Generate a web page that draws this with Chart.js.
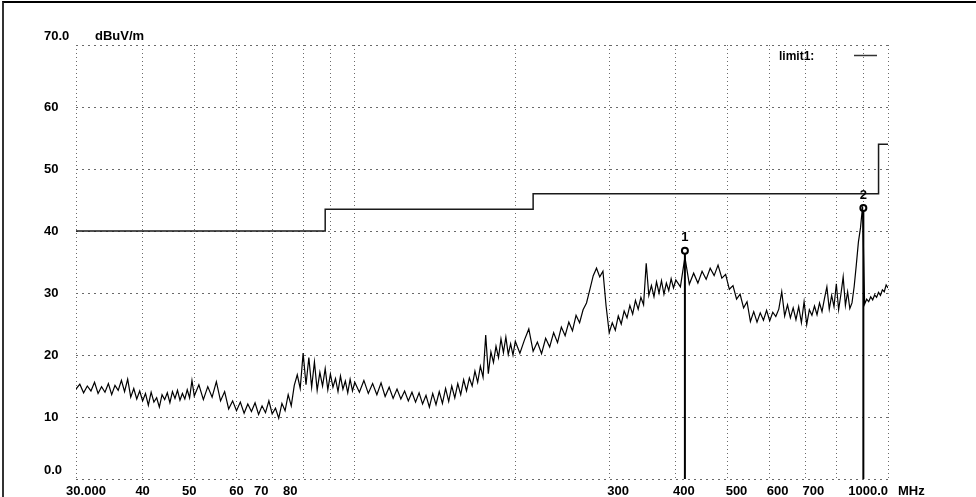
<!DOCTYPE html>
<html>
<head>
<meta charset="utf-8">
<script src="https://cdn.jsdelivr.net/npm/chart.js@4.4.1/dist/chart.umd.min.js"></script>
<style>
  html, body { margin: 0; padding: 0; background: #fff; }
  #wrap { position: relative; width: 976px; height: 497px; }
  #frame { position: absolute; left: 2px; top: 1px; right: 0; bottom: 0;
           border-top: 2px solid #000; border-left: 2px solid #333; pointer-events: none; }
  canvas { display: block; }
</style>
</head>
<body>
<div id="wrap">
  <canvas id="scan" width="976" height="497"></canvas>
  <div id="frame"></div>
</div>
<script>
// ---- measured trace (MHz / dBuV/m) ----
const scanFreqs = [
  30, 30.5, 31, 31.5, 32, 32.5, 33, 33.5, 34, 34.5, 35, 35.5, 36, 36.5, 37, 37.5, 38, 38.5, 39, 39.5,
  40, 40.5, 41, 41.5, 42, 42.5, 43, 43.5, 44, 44.5, 45, 45.5, 46, 46.5, 47, 47.5, 48, 48.5, 49, 49.5, 50,
  51, 52, 53, 54, 55, 56, 57, 58, 59, 60, 61, 62, 63, 64, 65, 66, 67, 68, 69, 70,
  71, 72, 73, 74, 75, 76, 77, 78, 79, 80, 81, 82, 83, 84, 85, 86, 87, 88, 89, 90,
  91, 92, 93, 94, 95, 96, 97, 98, 99, 100,
  102, 104, 106, 108, 110, 112, 114, 116, 118, 120, 122, 124, 126, 128, 130, 132, 134, 136, 138, 140,
  142, 144, 146, 148, 150, 152, 154, 156, 158, 160, 162, 164, 166, 168, 170, 172, 174, 176, 178, 180,
  182, 184, 186, 188, 190, 192, 194, 196, 198, 200,
  204, 208, 212, 216, 220, 224, 228, 232, 236, 240, 244, 248, 252, 256, 260, 264, 268, 272, 276, 280,
  284, 288, 292, 296, 300, 304, 308, 312, 316, 320, 324, 328, 332, 336, 340, 344, 348, 352, 356, 360,
  364, 368, 372, 376, 380, 384, 388, 392, 396, 400,
  408, 416, 424, 432, 440, 448, 456, 464, 472, 480, 488, 496, 504, 512, 520, 528, 536, 544, 552, 560,
  568, 576, 584, 592, 600, 608, 616, 624, 632, 640, 648, 656, 664, 672, 680, 688, 696, 704, 712, 720,
  728, 736, 744, 752, 760, 768, 776, 784, 792, 800, 808, 816, 824, 832, 840, 848, 856, 864, 872, 880,
  888, 896, 904, 912, 920, 928, 936, 944, 952, 960, 968, 976, 984, 992, 1000
];
const scanLevels = [
  14.5, 15.3, 13.9, 15.0, 14.2, 15.6, 13.8, 14.9, 14.0, 15.4, 13.6, 15.1, 14.3, 15.9, 14.1, 16.1, 13.2, 14.6, 12.9, 14.2,
  12.6, 13.8, 11.9, 14.0, 12.4, 13.1, 11.6, 13.6, 12.8, 13.9, 12.3, 14.1, 13.0, 14.3, 12.7, 13.8, 12.9, 14.4, 13.1, 15.9, 13.4,
  15.2, 12.8, 14.9, 13.2, 15.7, 12.6, 14.1, 11.3, 12.6, 11.0, 12.4, 10.6, 12.1, 10.9, 12.3, 10.4, 11.8, 10.7, 12.6, 10.5,
  11.4, 9.8, 12.2, 11.0, 13.6, 11.8, 15.1, 16.8, 14.6, 20.3, 15.2, 19.6, 14.8, 18.9, 14.3, 17.2, 15.0, 17.8, 14.4, 16.9,
  14.8, 16.2, 14.1, 16.6, 14.5, 15.8, 13.9, 16.1, 14.2, 15.6,
  14.0, 15.9, 13.8, 15.4, 13.6, 15.5, 13.3, 14.8, 13.0, 14.5, 12.9, 14.2, 12.6, 14.0, 12.4, 13.9, 12.1, 13.5, 11.6, 13.8,
  12.0, 14.1, 12.2, 14.6, 12.5, 15.0, 13.1, 15.4, 13.6, 16.0, 14.2, 16.3, 15.0, 17.4, 15.6, 18.2, 16.4, 23.2, 17.0, 20.5,
  18.8, 21.4, 19.6, 22.6, 20.4, 22.9, 20.1, 21.8, 20.0, 22.2,
  20.3, 22.4, 24.2, 20.6, 22.1, 20.2, 22.7, 21.3, 23.6, 22.0, 24.5, 23.1, 25.3, 23.9, 26.4, 25.2, 27.3, 28.4, 30.6, 32.8,
  34.0, 32.6, 33.5, 27.9, 23.6, 25.2, 24.0, 26.3, 25.0, 27.1, 26.0, 28.0, 26.6, 28.8, 27.4, 29.3, 28.1, 34.8, 29.6, 31.2,
  29.4, 31.8, 30.0, 32.0, 29.8, 31.6, 30.4, 32.3, 30.8, 32.1,
  31.0, 35.8, 31.4, 33.2, 31.6, 33.5, 32.2, 34.0, 32.8, 34.5, 32.4, 33.0, 30.6, 31.2, 29.0, 29.8, 27.6, 28.6, 25.4, 27.0,
  25.3, 26.8, 25.6, 27.2, 25.5, 26.9, 26.2, 27.4, 30.2, 26.3, 28.1, 26.0, 27.6, 25.7, 27.8, 25.2, 28.6, 24.9, 27.3, 26.4,
  27.9, 26.5, 28.4, 27.0, 29.1, 31.0, 27.4, 29.6, 27.8, 31.5, 27.3, 29.8, 32.6, 28.0, 30.2, 27.5, 28.4, 31.0, 34.5, 38.2,
  40.5, 44.0, 28.2, 29.0, 28.6, 29.4, 28.9, 29.7, 29.3, 30.1, 29.6, 30.5, 30.2, 31.3, 30.8
];

// ---- limit line ----
const limitFreqs  = [30, 88, 88, 216, 216, 960, 960, 1000];
const limitLevels = [40, 40, 43.5, 43.5, 46, 46, 54, 54];

// ---- markers ----
const markerFreqs  = [416, 899];
const markerLevels = [36.8, 43.7];
const markerNames  = ["1", "2"];

// ---- axes ----
const xGridValues  = [30, 40, 50, 60, 70, 80, 90, 100, 200, 300, 400, 500, 600, 700, 800, 900, 1000];
const xTickValues  = [30, 40, 50, 60, 70, 80, 300, 400, 500, 600, 700, 1000];
const xTickText    = ["30.000", "40", "50", "60", "70", "80", "300", "400", "500", "600", "700", "1000.0"];
const yTickValues  = [0, 10, 20, 30, 40, 50, 60, 70];
const yTickText    = ["0.0", "10", "20", "30", "40", "50", "60", "70.0"];

const FONT = "bold 13px 'Liberation Sans', Arial, sans-serif";
// the analyser prints its frequency labels a few px off the grid lines
const xLabelShift = [10, 0, -5, 0, -11, -13, 9, 8, 9, 8, 8, 0];

// text layer: tick labels, units, legend, marker numbers
const labelsPlugin = {
  id: "emiLabels",
  afterDraw(chart) {
    const { ctx, scales: { x, y } } = chart;
    ctx.save();
    ctx.fillStyle = "#000";
    ctx.font = FONT;
    ctx.textBaseline = "middle";

    xTickValues.forEach((v, i) => {
      const px = x.getPixelForValue(v) + xLabelShift[i];
      ctx.textAlign = i === xTickValues.length - 1 ? "right" : "center";
      ctx.fillText(xTickText[i], px, 491);
    });
    ctx.textAlign = "left";
    ctx.fillText("MHz", x.right + 10, 491);

    yTickValues.forEach((v, i) => {
      let py = y.getPixelForValue(v);
      if (i === 0 || i === yTickValues.length - 1) py -= 9;
      ctx.fillText(yTickText[i], 44, py);
    });
    ctx.fillText("dBuV/m", 95, y.getPixelForValue(70) - 9);

    // legend
    ctx.font = "bold 12px 'Liberation Sans', Arial, sans-serif";
    ctx.fillText("limit1:", 779, 57);
    ctx.strokeStyle = "#333";
    ctx.lineWidth = 1.5;
    ctx.beginPath(); ctx.moveTo(854, 55.5); ctx.lineTo(877, 55.5); ctx.stroke();

    // marker numbers
    ctx.font = "bold 13px 'Liberation Sans', Arial, sans-serif";
    ctx.textAlign = "center";
    markerFreqs.forEach((f, i) => {
      ctx.fillText(markerNames[i], x.getPixelForValue(f), y.getPixelForValue(markerLevels[i]) - 13);
    });
    ctx.restore();
  }
};

const markerSets = markerFreqs.map((f, i) => ({
  label: "marker" + markerNames[i],
  data: [{ x: f, y: 0 }, { x: f, y: markerLevels[i] }],
  borderColor: "#000",
  borderWidth: 2,
  pointRadius: [0, 3],
  pointBorderWidth: 2,
  pointBackgroundColor: "#fff",
  pointBorderColor: "#000",
}));

new Chart(document.getElementById("scan"), {
  type: "line",
  data: {
    datasets: [
      {
        label: "limit1",
        data: limitFreqs.map((f, i) => ({ x: f, y: limitLevels[i] })),
        borderColor: "#1a1a1a",
        borderWidth: 1.5,
        pointRadius: 0,
      },
      {
        label: "scan",
        data: scanFreqs.map((f, i) => ({ x: f, y: scanLevels[i] })),
        borderColor: "#000",
        borderWidth: 1.2,
        pointRadius: 0,
        tension: 0,
      },
      ...markerSets,
    ],
  },
  options: {
    responsive: false,
    animation: false,
    layout: { padding: { left: 76, right: 88, top: 45, bottom: 18 } },
    plugins: { legend: { display: false }, tooltip: { enabled: false } },
    scales: {
      x: {
        type: "logarithmic",
        min: 30,
        max: 1000,
        afterBuildTicks: s => { s.ticks = xGridValues.map(v => ({ value: v })); },
        ticks: { display: false },
        grid: { color: "#6a6a6a", drawTicks: false },
        border: { display: false, dash: [1, 3] },
      },
      y: {
        min: 0,
        max: 70,
        ticks: { display: false, stepSize: 10 },
        grid: { color: "#6a6a6a", drawTicks: false },
        border: { display: false, dash: [2, 4] },
      },
    },
  },
  plugins: [labelsPlugin],
});
</script>
</body>
</html>
